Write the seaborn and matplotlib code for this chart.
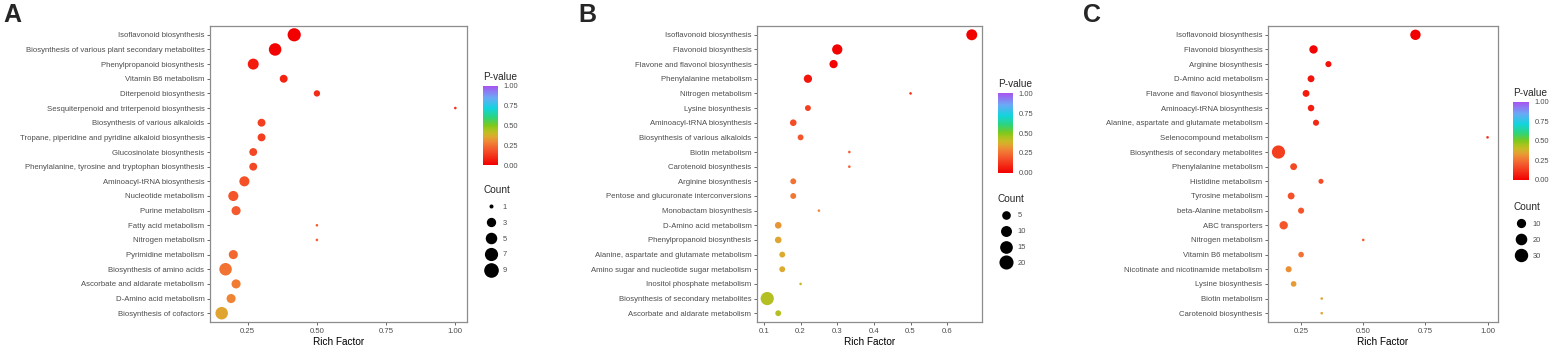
import numpy as np
import pandas as pd
import matplotlib
matplotlib.use('Agg')
import matplotlib.pyplot as plt
from matplotlib.colors import LinearSegmentedColormap, Normalize
from matplotlib.colorbar import ColorbarBase
from matplotlib.lines import Line2D
import seaborn as sns

# ==========================================
# 資料 (從圖上讀出的估計值)
# ==========================================
a_terms = ['Isoflavonoid biosynthesis', 'Biosynthesis of various plant secondary metabolites',
           'Phenylpropanoid biosynthesis', 'Vitamin B6 metabolism', 'Diterpenoid biosynthesis',
           'Sesquiterpenoid and triterpenoid biosynthesis', 'Biosynthesis of various alkaloids',
           'Tropane, piperidine and pyridine alkaloid biosynthesis', 'Glucosinolate biosynthesis',
           'Phenylalanine, tyrosine and tryptophan biosynthesis', 'Aminoacyl-tRNA biosynthesis',
           'Nucleotide metabolism', 'Purine metabolism', 'Fatty acid metabolism', 'Nitrogen metabolism',
           'Pyrimidine metabolism', 'Biosynthesis of amino acids', 'Ascorbate and aldarate metabolism',
           'D-Amino acid metabolism', 'Biosynthesis of cofactors']
a_rich = [0.418, 0.349, 0.27, 0.38, 0.50, 1.0, 0.30, 0.30, 0.27, 0.27,
          0.238, 0.198, 0.208, 0.50, 0.50, 0.198, 0.17, 0.208, 0.19, 0.156]
a_count = [9, 8, 6, 3, 2, 1, 3, 3, 3, 3, 5, 5, 4, 1, 1, 4, 8, 4, 4, 8]
a_p = [0.0, 0.01, 0.06, 0.08, 0.10, 0.11, 0.14, 0.14, 0.16, 0.16,
       0.18, 0.19, 0.20, 0.21, 0.21, 0.23, 0.25, 0.27, 0.29, 0.35]

b_terms = ['Isoflavonoid biosynthesis', 'Flavonoid biosynthesis', 'Flavone and flavonol biosynthesis',
           'Phenylalanine metabolism', 'Nitrogen metabolism', 'Lysine biosynthesis',
           'Aminoacyl-tRNA biosynthesis', 'Biosynthesis of various alkaloids', 'Biotin metabolism',
           'Carotenoid biosynthesis', 'Arginine biosynthesis', 'Pentose and glucuronate interconversions',
           'Monobactam biosynthesis', 'D-Amino acid metabolism', 'Phenylpropanoid biosynthesis',
           'Alanine, aspartate and glutamate metabolism', 'Amino sugar and nucleotide sugar metabolism',
           'Inositol phosphate metabolism', 'Biosynthesis of secondary metabolites',
           'Ascorbate and aldarate metabolism']
b_rich = [0.667, 0.30, 0.29, 0.22, 0.50, 0.22, 0.18, 0.20, 0.333, 0.333,
          0.18, 0.18, 0.25, 0.139, 0.139, 0.15, 0.15, 0.20, 0.109, 0.139]
b_count = [14, 12, 7, 7, 1, 3, 4, 3, 1, 1, 3, 3, 1, 4, 4, 3, 3, 1, 22, 3]
b_p = [0.0, 0.005, 0.01, 0.05, 0.11, 0.14, 0.17, 0.19, 0.21, 0.21,
       0.25, 0.26, 0.29, 0.32, 0.35, 0.36, 0.36, 0.40, 0.43, 0.43]

c_terms = ['Isoflavonoid biosynthesis', 'Flavonoid biosynthesis', 'Arginine biosynthesis',
           'D-Amino acid metabolism', 'Flavone and flavonol biosynthesis', 'Aminoacyl-tRNA biosynthesis',
           'Alanine, aspartate and glutamate metabolism', 'Selenocompound metabolism',
           'Biosynthesis of secondary metabolites', 'Phenylalanine metabolism', 'Histidine metabolism',
           'Tyrosine metabolism', 'beta-Alanine metabolism', 'ABC transporters', 'Nitrogen metabolism',
           'Vitamin B6 metabolism', 'Nicotinate and nicotinamide metabolism', 'Lysine biosynthesis',
           'Biotin metabolism', 'Carotenoid biosynthesis']
c_rich = [0.71, 0.30, 0.36, 0.29, 0.27, 0.29, 0.31, 1.0, 0.159, 0.22,
          0.33, 0.21, 0.25, 0.18, 0.50, 0.25, 0.20, 0.22, 0.333, 0.333]
c_count = [21, 12, 5, 7, 7, 6, 5, 1, 38, 7, 3, 7, 5, 12, 1, 4, 5, 4, 1, 1]
c_p = [0.0, 0.01, 0.04, 0.05, 0.06, 0.07, 0.09, 0.11, 0.14, 0.16,
       0.17, 0.18, 0.19, 0.19, 0.21, 0.25, 0.31, 0.33, 0.35, 0.35]

a_breaks = [1, 3, 5, 7, 9]
b_breaks = [5, 10, 15, 20]
c_breaks = [10, 20, 30]

# P-value 顏色 (紅 -> 橘 -> 綠 -> 青 -> 紫)
cmap = LinearSegmentedColormap.from_list('pv', [
    (0.00, '#F20000'), (0.20, '#F45A2E'), (0.30, '#EE8A35'), (0.35, '#E0A530'),
    (0.40, '#C8BA25'), (0.45, '#A8C41E'), (0.50, '#7FC81A'), (0.60, '#2ED47A'),
    (0.72, '#12D4DE'), (0.85, '#6AAAF5'), (1.00, '#A855F0')])

W, H = 1554, 350
sns.set_style('white')
plt.rcParams['font.family'] = ['Liberation Sans', 'DejaVu Sans']
fig = plt.figure(figsize=(W / 100, H / 100), dpi=100)

GREY = '#4D4D4D'


def dot_px(c, lo, hi):
    return 2.6 + 10.6 * np.sqrt((c - lo) / (hi - lo))


def fx(x):
    return x / W


def fy(y):
    return 1 - y / H


def panel(letter, letter_x, box, terms, rich, count, pval, xticks, xfmt, cbar, cnt, breaks):
    df = pd.DataFrame({'term': terms, 'rich': rich, 'count': count, 'p': pval})
    lo, hi = min(count), max(count)
    sizes = {c: (dot_px(c, lo, hi) * 0.72) ** 2 for c in sorted(set(count))}

    l, r, t, b = box
    ax = fig.add_axes([fx(l), fy(b), fx(r - l), (b - t) / H])
    sns.scatterplot(data=df, x='rich', y='term', hue='p', size='count',
                    palette=cmap, hue_norm=(0, 1), sizes=sizes,
                    linewidth=0, legend=False, ax=ax, zorder=3)
    n = len(terms)
    ax.set_ylim(n - 0.4, -0.6)
    xlo, xhi = min(rich), max(rich)
    pad = 0.05 * (xhi - xlo)
    ax.set_xlim(xlo - pad, xhi + pad)
    ax.set_xticks(xticks)
    ax.set_xticklabels([xfmt.format(v) for v in xticks])
    ax.set_ylabel('')
    ax.set_xlabel('Rich Factor', fontsize=7.2, color='black', labelpad=2)
    ax.tick_params(axis='both', labelsize=5.6, labelcolor=GREY, color=GREY,
                   length=2.5, width=0.6, pad=1.5, left=True, bottom=True)
    for s in ax.spines.values():
        s.set_color('#8C8C8C')
        s.set_linewidth(0.9)

    fig.text(fx(letter_x), fy(22), letter, fontsize=18, fontweight='bold',
             ha='left', va='baseline')

    # 顏色條
    cl, ct, cr, cb = cbar
    cax = fig.add_axes([fx(cl), fy(cb), fx(cr - cl), (cb - ct) / H])
    cb_ = ColorbarBase(cax, cmap=cmap, norm=Normalize(0, 1), ticks=[0, 0.25, 0.5, 0.75, 1])
    cb_.outline.set_visible(False)
    cax.set_yticklabels(['0.00', '0.25', '0.50', '0.75', '1.00'])
    cax.tick_params(labelsize=5.4, labelcolor=GREY, color='white', length=2.5,
                    width=0.6, direction='in', pad=4)
    fig.text(fx(cl), fy(ct - 9), 'P-value', fontsize=7.2, ha='left', va='center')

    # Count 圖例
    handles = [Line2D([], [], marker='o', linestyle='', color='black',
                      markersize=dot_px(v, lo, hi) * 0.72) for v in breaks]
    leg = fig.legend(handles, [str(v) for v in breaks], title='Count',
                     loc='upper left', bbox_to_anchor=(fx(cnt[0]), fy(cnt[1])),
                     frameon=False, fontsize=5.4, title_fontsize=7.2,
                     borderpad=0, borderaxespad=0, handlelength=2.0,
                     handletextpad=0.6, labelspacing=1.15, alignment='left')
    for txt in leg.get_texts():
        txt.set_color(GREY)
    return ax


panel('A', 3, (210, 467, 26, 322), a_terms, a_rich, a_count, a_p,
      [0.25, 0.50, 0.75, 1.00], '{:.2f}', (483, 86, 498, 165), (483, 185), a_breaks)
panel('B', 578, (757, 982, 26, 322), b_terms, b_rich, b_count, b_p,
      [0.1, 0.2, 0.3, 0.4, 0.5, 0.6], '{:.1f}', (998, 93, 1013, 173), (998, 193.5), b_breaks)
panel('C', 1083, (1268, 1498, 26, 322), c_terms, c_rich, c_count, c_p,
      [0.25, 0.50, 0.75, 1.00], '{:.2f}', (1513, 102, 1529, 180), (1513, 202), c_breaks)

fig.savefig('out.png', dpi=100)
